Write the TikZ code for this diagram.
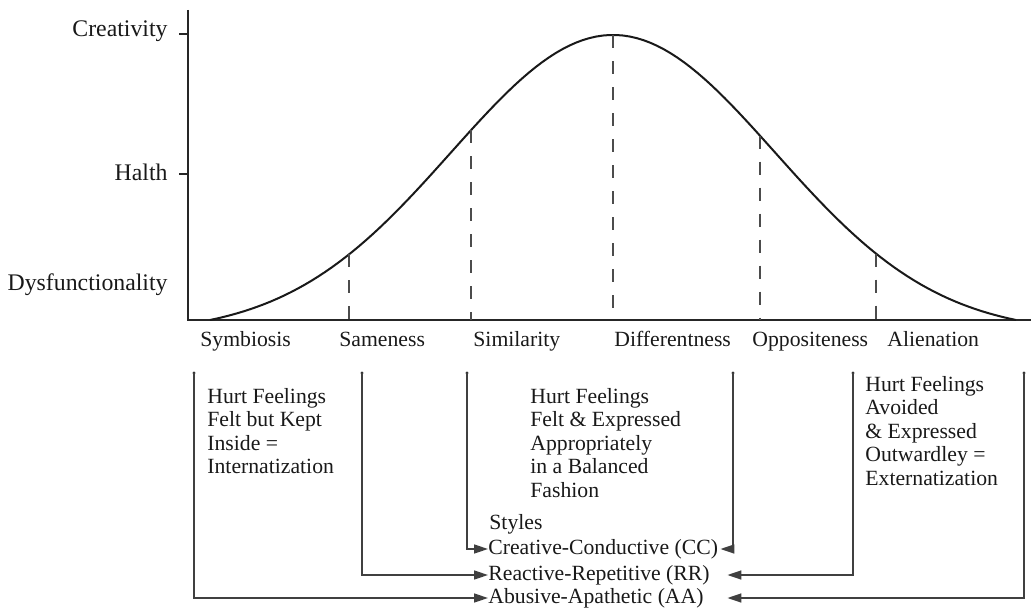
\documentclass[tikz,border=0pt]{standalone}
\usepackage{fontspec}
\setmainfont{Liberation Serif}
\usetikzlibrary{arrows.meta}
\begin{document}
\begin{tikzpicture}[x=0.5pt,y=-0.5pt,
  >={Triangle[length=7pt,width=4.5pt]},
  font=\fontsize{10.85}{11.75}\selectfont,
  every node/.style={inner sep=0pt,text=black!90},
  level/.style={anchor=east,font=\fontsize{11.9}{13}\selectfont},
  axisline/.style={black!85,line width=1pt},
  bellcurve/.style={black!90,line width=1pt},
  guide/.style={black!70,line width=0.6pt,dash pattern=on 6.5pt off 6.5pt},
  bracket/.style={black!75,line width=0.8pt},
  declare function={bell(\t)=320-285*(exp(-((\t-613)/100)*((\t-613)/100)/5.2488)-0.0453)/0.9547;}]
\useasboundingbox (0,0) rectangle (1031,608);
% 坐标轴
\draw[axisline] (188,10) -- (188,320) -- (1031,320);
\draw[axisline] (179,34) -- (188,34);
\draw[axisline] (179,174) -- (188,174);
% 纵轴层次
\node[level] (creat) at (168,31) {Creativity};
\node[level] (health) at (168,172) {Halth};
\node[level] (dysf) at (168,285) {Dysfunctionality};
% 钟形曲线
\draw[bellcurve] plot[domain=210:1016,samples=120] (\x,{bell(\x)});
% 各阶段的虚线
\draw[guide] (349,{bell(349)}) -- (349,320);
\draw[guide] (471,{bell(471)}) -- (471,320);
\draw[guide] (613,{bell(613)}) -- (613,320);
\draw[guide] (760,{bell(760)}) -- (760,320);
\draw[guide] (876,{bell(876)}) -- (876,320);
% 横轴阶段
\node[anchor=base west] (symb) at (200,347) {Symbiosis};
\node[anchor=base west] (same) at (339,347) {Sameness};
\node[anchor=base west] (simil) at (473,347) {Similarity};
\node[anchor=base west] (diff) at (614,347) {Differentness};
\node[anchor=base west] (oppos) at (752,347) {Oppositeness};
\node[anchor=base west] (alien) at (887,347) {Alienation};
% 说明文字
\node[anchor=north west,align=left] (inside) at (207,388)
  {Hurt Feelings\\Felt but Kept\\Inside =\\Internatization};
\node[anchor=north west,align=left] (balanced) at (530,388)
  {Hurt Feelings\\Felt \& Expressed\\Appropriately\\in a Balanced\\Fashion};
\node[anchor=north west,align=left] (outside) at (865,376)
  {Hurt Feelings\\Avoided\\\& Expressed\\Outwardley =\\Externatization};
% 风格
\node[anchor=base west] (styles) at (489,529) {Styles};
\node[anchor=west] (cc) at (488,549) {Creative-Conductive (CC)};
\node[anchor=west] (rr) at (488,575) {Reactive-Repetitive (RR)};
\node[anchor=west] (aa) at (488,598) {Abusive-Apathetic (AA)};
% 括线起点
\coordinate (symbtop) at (194,373);
\coordinate (sametop) at (362,373);
\coordinate (simtop) at (467,373);
\coordinate (difftop) at (733,373);
\coordinate (opptop) at (853,373);
\coordinate (alitop) at (1024,373);
\fill[black!80] (symbtop) circle (0.8pt) (sametop) circle (0.8pt)
  (simtop) circle (0.8pt) (difftop) circle (0.8pt)
  (opptop) circle (0.8pt) (alitop) circle (0.8pt);
% 括线与箭头
\draw[bracket,->] (symbtop) |- (aa.west);
\draw[bracket,->] (sametop) |- (rr.west);
\draw[bracket,->] (simtop) |- (cc.west);
\draw[bracket,->] (difftop) |- ([xshift=1pt]cc.east);
\draw[bracket,->] (opptop) |- ([xshift=4.5pt]cc.east |- rr.east);
\draw[bracket,->] (alitop) |- ([xshift=4.5pt]cc.east |- aa.east);
\end{tikzpicture}
\end{document}
